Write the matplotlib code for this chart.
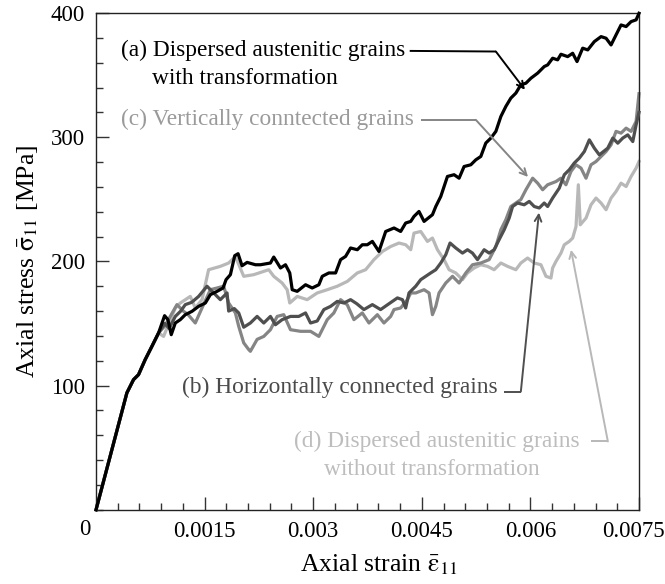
import matplotlib
matplotlib.use("Agg")
import matplotlib.pyplot as plt
import matplotlib.transforms as mtransforms
from matplotlib.ticker import MultipleLocator

plt.rcParams['font.family'] = ['Liberation Serif', 'DejaVu Serif']
plt.rcParams['mathtext.fontset'] = 'stix'

# ---------------- data ----------------
shared_strain = [0.0, 0.000426, 0.000518, 0.000587, 0.000679, 0.000772, 0.000864]
shared_stress = [0.0, 94.1, 104.8, 108.8, 120.9, 131.6, 142.4]

a_strain = [0.000947, 0.000993, 0.001039, 0.001095, 0.001164, 0.001233, 0.001326, 0.001417,
            0.00151, 0.001579, 0.001672, 0.001755, 0.001796, 0.001856, 0.001916, 0.001962,
            0.002017, 0.002087, 0.002202, 0.002271, 0.002409, 0.002455, 0.002548, 0.002617,
            0.002676, 0.00271, 0.002779, 0.002894, 0.002986, 0.003078, 0.003125, 0.003216,
            0.003309, 0.003378, 0.003447, 0.003516, 0.003609, 0.003678, 0.003747, 0.003817,
            0.003908, 0.004001, 0.004116, 0.004208, 0.004277, 0.004347, 0.004392, 0.004461,
            0.004531, 0.004647, 0.004693, 0.004762, 0.004854, 0.004946, 0.005015, 0.005084,
            0.005177, 0.005246, 0.005315, 0.005384, 0.005454, 0.005523, 0.005592, 0.005661,
            0.00573, 0.005799, 0.005868, 0.005938, 0.006007, 0.0061, 0.006191, 0.006238,
            0.006307, 0.006376, 0.006422, 0.006515, 0.006584, 0.006644, 0.006722, 0.006792,
            0.006883, 0.006976, 0.007045, 0.007114, 0.007183, 0.007252, 0.007322, 0.007391,
            0.00746, 0.0075]
a_stress = [156.3, 153.1, 141.0, 150.4, 153.1, 157.1, 159.8, 163.8,
            166.5, 173.2, 175.9, 178.6, 185.3, 189.3, 204.6, 206.2,
            196.5, 199.2, 197.3, 197.3, 198.7, 203.5, 194.7, 197.3,
            190.7, 177.2, 175.9, 181.2, 178.6, 181.2, 188.0, 190.7,
            190.7, 201.4, 204.0, 210.8, 209.4, 213.4, 213.4, 216.1,
            208.0, 224.1, 226.9, 224.1, 230.9, 232.2, 236.2, 240.2,
            232.2, 237.6, 244.2, 252.3, 268.4, 269.8, 267.0, 276.4,
            277.8, 281.8, 284.5, 295.3, 299.3, 304.7, 316.7, 324.8,
            331.5, 335.5, 342.2, 343.5, 347.5, 351.6, 356.9, 358.2,
            363.6, 362.3, 366.8, 364.9, 367.6, 360.9, 371.7, 370.3,
            377.0, 381.0, 379.7, 374.3, 382.4, 390.4, 389.1, 393.1,
            394.5, 399.8]

b_strain = [0.00095, 0.00101, 0.001095, 0.00117, 0.001233, 0.00132, 0.001417, 0.001533,
            0.001625, 0.001717, 0.00181, 0.001832, 0.00191, 0.001971, 0.00204, 0.002132,
            0.002225, 0.002317, 0.002409, 0.002478, 0.002571, 0.002686, 0.002801, 0.002894,
            0.002963, 0.003055, 0.003147, 0.00324, 0.003332, 0.003424, 0.003516, 0.0036,
            0.0037, 0.003817, 0.003931, 0.004024, 0.004163, 0.004232, 0.004277, 0.004323,
            0.004416, 0.004485, 0.004623, 0.004693, 0.004762, 0.004831, 0.00489, 0.004969,
            0.005062, 0.005131, 0.0052, 0.005269, 0.005361, 0.00543, 0.005499, 0.005568,
            0.005638, 0.005707, 0.005754, 0.005823, 0.005914, 0.005984, 0.006053, 0.006122,
            0.006191, 0.006238, 0.006307, 0.006399, 0.006468, 0.006537, 0.006606, 0.006676,
            0.006745, 0.006814, 0.006883, 0.006952, 0.007068, 0.007138, 0.007207, 0.007276,
            0.007345, 0.007414, 0.00746, 0.0075]
b_stress = [150.0, 146.0, 155.7, 160.0, 165.2, 167.0, 171.8, 180.0,
            174.6, 169.2, 174.6, 160.0, 162.0, 158.5, 147.0, 150.4,
            155.7, 150.4, 155.7, 149.0, 153.1, 155.7, 155.7, 158.5,
            150.4, 152.0, 161.2, 163.8, 167.8, 166.5, 169.2, 166.0,
            161.2, 165.2, 161.2, 165.0, 170.6, 169.2, 162.5, 174.6,
            180.0, 185.3, 190.7, 193.3, 198.7, 205.4, 214.8, 210.8,
            206.7, 209.4, 206.7, 201.4, 209.4, 206.7, 209.4, 217.5,
            225.5, 234.9, 244.2, 247.0, 245.6, 248.3, 244.2, 243.0,
            247.0, 244.2, 251.0, 259.0, 269.8, 273.8, 279.2, 283.2,
            288.5, 297.9, 291.2, 285.8, 291.2, 299.3, 295.2, 299.3,
            301.9, 296.5, 309.9, 320.0]

c_strain = [0.00095, 0.001118, 0.001205, 0.001274, 0.001371, 0.001464, 0.001579, 0.001672,
            0.001763, 0.001832, 0.001925, 0.001971, 0.00204, 0.002109, 0.002132, 0.002225,
            0.002317, 0.002409, 0.002502, 0.002593, 0.002686, 0.002824, 0.002963, 0.003078,
            0.003194, 0.003285, 0.003378, 0.003471, 0.003562, 0.003678, 0.00377, 0.003886,
            0.003977, 0.00407, 0.004116, 0.004208, 0.004301, 0.004347, 0.004416, 0.004531,
            0.0046, 0.004647, 0.004693, 0.004738, 0.004831, 0.004924, 0.005015, 0.005108,
            0.0052, 0.005315, 0.00543, 0.005523, 0.005592, 0.005661, 0.00573, 0.005799,
            0.005868, 0.005938, 0.006031, 0.0061, 0.006169, 0.006238, 0.006353, 0.006422,
            0.006491, 0.00656, 0.006629, 0.006699, 0.006768, 0.006837, 0.006906, 0.007045,
            0.007114, 0.007183, 0.007252, 0.007322, 0.007391, 0.00746, 0.0075]
c_stress = [148.0, 165.2, 160.0, 157.0, 150.4, 162.5, 177.2, 178.6,
            180.0, 166.5, 158.5, 147.7, 134.4, 129.0, 127.6, 137.2,
            139.6, 145.0, 155.7, 157.1, 145.0, 143.7, 143.7, 139.6,
            153.1, 158.5, 169.2, 165.0, 153.1, 158.5, 150.4, 157.1,
            150.4, 155.7, 161.2, 162.5, 169.2, 174.6, 174.6, 177.2,
            174.6, 157.1, 163.8, 174.6, 182.6, 188.0, 182.6, 190.7,
            197.3, 198.7, 201.4, 212.0, 225.5, 233.6, 244.2, 247.0,
            249.8, 257.7, 267.0, 263.0, 257.7, 261.7, 264.3, 267.0,
            261.7, 272.4, 277.8, 275.1, 267.0, 277.8, 280.4, 288.5,
            293.9, 304.7, 303.3, 307.3, 304.7, 312.7, 335.0]

d_strain = [0.000933, 0.001095, 0.001164, 0.001302, 0.001371, 0.001464, 0.001555, 0.001717,
            0.001832, 0.001925, 0.00204, 0.002178, 0.002386, 0.002455, 0.002571, 0.00264,
            0.002676, 0.002779, 0.002917, 0.003055, 0.003194, 0.003332, 0.003471, 0.003609,
            0.003724, 0.003839, 0.003955, 0.00407, 0.004185, 0.004277, 0.004347, 0.004392,
            0.004485, 0.004578, 0.004647, 0.004716, 0.004807, 0.004877, 0.004969, 0.005062,
            0.005131, 0.005223, 0.005315, 0.005408, 0.005499, 0.005592, 0.005685, 0.005799,
            0.005868, 0.005961, 0.006053, 0.006145, 0.006215, 0.006284, 0.006307, 0.006353,
            0.006422, 0.006468, 0.006537, 0.006584, 0.00663, 0.006662, 0.006689, 0.006768,
            0.006837, 0.006906, 0.006976, 0.007045, 0.007114, 0.007183, 0.007252, 0.007322,
            0.007391, 0.00746, 0.0075]
d_stress = [139.6, 162.5, 166.5, 171.8, 162.5, 169.2, 193.3, 196.0,
            198.7, 204.0, 188.0, 189.3, 193.3, 188.0, 182.6, 177.2,
            166.5, 171.8, 169.2, 174.6, 177.2, 180.0, 183.9, 190.7,
            193.3, 201.4, 208.0, 212.0, 214.8, 213.4, 209.4, 222.8,
            224.1, 216.1, 218.8, 209.4, 201.4, 193.3, 190.7, 185.3,
            190.7, 194.7, 197.3, 196.0, 193.3, 198.7, 196.0, 193.3,
            198.7, 202.7, 198.7, 197.3, 188.0, 186.6, 194.7, 200.0,
            206.7, 213.4, 216.1, 218.8, 228.1, 261.7, 229.5, 234.9,
            245.6, 251.0, 247.0, 241.6, 251.0, 256.3, 263.0, 260.3,
            268.4, 275.1, 280.4]

x_tick_values = [0.0015, 0.003, 0.0045, 0.006, 0.0075]
x_tick_labels = ['0.0015', '0.003', '0.0045', '0.006', '0.0075']
y_tick_values = [100, 200, 300, 400]
y_tick_labels = ['100', '200', '300', '400']

label_a = ['(a) Dispersed austenitic grains', 'with transformation']
label_b = ['(b) Horizontally connected grains']
label_c = ['(c) Vertically conntected grains']
label_d = ['(d) Dispersed austenitic grains', 'without transformation']

# ---------------- styles ----------------
col_a, col_b, col_c, col_d = '#000000', '#4f4f4f', '#858585', '#b8b8b8'
txt_a, txt_b, txt_c, txt_d = '#000000', '#4a4a4a', '#9a9a9a', '#bdbdbd'
lw = 2.3
fs_ann = 16.8
fs_tick = 16.5
fs_lab = 18.5

fig = plt.figure(figsize=(6.65, 5.84), dpi=100)
ax = fig.add_axes([0.1444, 0.1271, 0.9609 - 0.1444, 0.9777 - 0.1271])

for xs, ys, c, z in [(d_strain, d_stress, col_d, 1), (c_strain, c_stress, col_c, 2),
                     (b_strain, b_stress, col_b, 3), (a_strain, a_stress, col_a, 4)]:
    X = shared_strain + xs
    Y = shared_stress + ys
    ax.plot(X, Y, color=c, lw=lw, zorder=z, solid_joinstyle='round', clip_on=False)

ax.set_xlim(0, 0.0075)
ax.set_ylim(0, 400)

ax.xaxis.set_minor_locator(MultipleLocator(0.0003))
ax.yaxis.set_minor_locator(MultipleLocator(20))
ax.set_xticks(x_tick_values)
ax.set_xticklabels(x_tick_labels)
ax.set_yticks(y_tick_values)
ax.set_yticklabels(y_tick_labels)
ax.tick_params(which='both', direction='in', top=False, right=False, labelsize=fs_tick,
               color='#333333', width=1.0)
ax.tick_params(which='major', length=9.5, pad=8)
ax.tick_params(which='minor', length=5)
ax.tick_params(axis='y', which='major', pad=8)
for sp in ax.spines.values():
    sp.set_linewidth(1.0)
    sp.set_color('#222222')

# nudge last x tick label left so it stays within the figure
last = ax.get_xticklabels()[-1]
last.set_transform(last.get_transform() +
                   mtransforms.ScaledTranslation(-6 / 100, 0, fig.dpi_scale_trans))

ax.annotate('0', xy=(0, 0), xytext=(-8, -14), textcoords='offset points',
            ha='center', va='center', fontsize=fs_tick)

ax.set_xlabel(r'Axial strain $\bar{\mathrm{\varepsilon}}_{11}$', fontsize=fs_lab)
ax.xaxis.set_label_coords(0.52, -0.085)
ax.set_ylabel(r'Axial stress $\bar{\mathrm{\sigma}}_{11}$ [MPa]', fontsize=fs_lab)
ax.yaxis.set_label_coords(-0.103, 0.5)

# ---------------- annotations ----------------
def connector(p_text_end, p_elbow, p_tip, color):
    ax.plot([p_text_end[0], p_elbow[0]], [p_text_end[1], p_elbow[1]], color=color,
            lw=1.4, zorder=5, solid_capstyle='butt')
    ax.annotate('', xy=p_tip, xytext=p_elbow,
                arrowprops=dict(arrowstyle='->', color=color, lw=1.4,
                                shrinkA=0, shrinkB=0, mutation_scale=12), zorder=5)

ax.text(0.000347, 369.5, label_a[0], color=txt_a, fontsize=fs_ann, ha='left', va='center')
ax.text(0.000776, 347.0, label_a[1], color=txt_a, fontsize=fs_ann, ha='left', va='center')
connector((0.004333, 369.5), (0.005523, 369.0), (0.005924, 338.2), col_a)

ax.text(0.000347, 314.0, label_c[0], color=txt_c, fontsize=fs_ann, ha='left', va='center')
connector((0.004484, 314.0), (0.005246, 314.0), (0.005967, 268.0), col_c)

ax.text(0.001187, 98.4, label_b[0], color=txt_b, fontsize=fs_ann, ha='left', va='center')
connector((0.005633, 95.2), (0.005868, 95.2), (0.006118, 239.3), col_b)

ax.text(0.002728, 55.0, label_d[0], color=txt_d, fontsize=fs_ann, ha='left', va='center')
ax.text(0.003143, 32.4, label_d[1], color=txt_d, fontsize=fs_ann, ha='left', va='center')
connector((0.006836, 55.0), (0.00707, 55.0), (0.006561, 209.4), col_d)

fig.savefig('out.png', dpi=100)
